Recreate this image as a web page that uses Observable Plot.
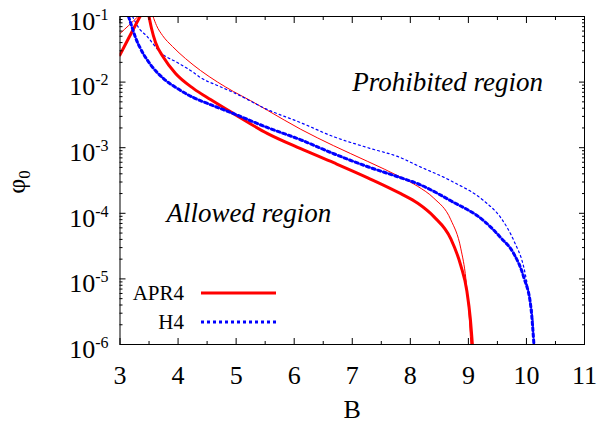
<!DOCTYPE html>
<html><head><meta charset="utf-8">
<script src="https://cdn.jsdelivr.net/npm/d3@7"></script>
<script src="https://cdn.jsdelivr.net/npm/@observablehq/plot@0.6"></script>
<style>
html,body{margin:0;padding:0;background:#fff;}
#chart{width:600px;height:435px;}
#chart svg, #chart svg text{font-family:'Liberation Serif','Times New Roman',serif;}
</style></head><body><div id="chart"></div>
<script>
// ---- tick values ----
const xTicks = [3, 4, 5, 6, 7, 8, 9, 10, 11];
const xMinorTicks = [3.5, 4.5, 5.5, 6.5, 7.5, 8.5, 9.5, 10.5];
const yTicks = [1e-1, 1e-2, 1e-3, 1e-4, 1e-5, 1e-6];
const yMinorMultipliers = [2, 3, 4, 5, 6, 7, 8, 9];
const yMinorTicks = yTicks.slice(1).flatMap(d => yMinorMultipliers.map(m => m * d));

// ---- APR4 (thick) ----
const apr4ThickLeftB   = [3.0, 3.15, 3.345];
const apr4ThickLeftPhi = [2.6e-2, 4.7e-2, 1.0e-1];
const apr4ThickB   = [3.500, 3.543, 3.612, 3.750, 3.957, 4.267, 4.560, 4.957, 5.543, 6.112, 6.681, 7.267, 7.836, 8.129, 8.405, 8.698, 8.871, 8.974, 9.034, 9.069];
const apr4ThickPhi = [1.0e-1, 6.56e-2, 4.01e-2, 2.37e-2, 1.35e-2, 7.96e-3, 5.41e-3, 3.30e-3, 1.64e-3, 9.66e-4, 5.90e-4, 3.48e-4, 1.99e-4, 1.42e-4, 8.9e-5, 4.08e-5, 1.58e-5, 6.56e-6, 2.45e-6, 1.0e-6];

// ---- APR4 (thin) ----
const apr4ThinLeftB   = [3.0, 3.15, 3.31];
const apr4ThinLeftPhi = [5.5e-2, 7.3e-2, 1.0e-1];
const apr4ThinB   = [3.569, 3.629, 3.733, 3.905, 4.129, 4.388, 4.681, 4.957, 5.250, 5.543, 6.112, 6.681, 7.267, 7.836, 8.129, 8.405, 8.698, 8.871, 8.957, 9.009, 9.043];
const apr4ThinPhi = [1.0e-1, 7.29e-2, 5.13e-2, 3.48e-2, 2.28e-2, 1.50e-2, 1.00e-2, 7.16e-3, 5.21e-3, 3.70e-3, 1.91e-3, 1.07e-3, 6.17e-4, 3.55e-4, 2.57e-4, 1.70e-4, 7.96e-5, 2.87e-5, 1.0e-5, 3.03e-6, 1.0e-6];

// ---- H4 (thick dotted) ----
const h4ThickB   = [3.147, 3.198, 3.267, 3.353, 3.526, 3.750, 3.991, 4.267, 4.560, 4.957, 5.543, 6.112, 6.681, 7.267, 7.836, 8.129, 8.698, 9.267, 9.560, 9.784, 9.957, 10.078, 10.129];
const h4ThickPhi = [1.0e-1, 7.29e-2, 4.78e-2, 3.24e-2, 1.85e-2, 1.13e-2, 7.96e-3, 5.79e-3, 4.53e-3, 3.30e-3, 2.02e-3, 1.32e-3, 8.09e-4, 5.13e-4, 3.48e-4, 2.82e-4, 1.55e-4, 7.67e-5, 4.23e-5, 2.41e-5, 1.04e-5, 3.61e-6, 1.0e-6];

// ---- H4 (thin dotted) ----
const h4ThinB   = [3.216, 3.319, 3.469, 3.698, 3.986, 4.267, 4.388, 4.681, 4.957, 5.543, 6.112, 6.681, 7.267, 7.836, 8.129, 8.698, 9.267, 9.560, 9.784, 9.957, 10.043, 10.112, 10.129];
const h4ThinPhi = [1.0e-1, 6.79e-2, 4.95e-2, 2.82e-2, 1.99e-2, 1.40e-2, 1.17e-2, 8.85e-3, 6.92e-3, 3.80e-3, 2.41e-3, 1.47e-3, 1.0e-3, 7.03e-4, 5.31e-4, 3.13e-4, 1.55e-4, 8.53e-5, 3.80e-5, 1.47e-5, 5.90e-6, 2.29e-6, 1.0e-6];

// ---- annotations & legend ----
const annotText = ["Prohibited region", "Allowed region"];
const annotB    = [7.0, 3.8];
const annotPhi  = [1e-2, 1e-4];
const legendNames = ["APR4", "H4"];

const rows = (B, phi) => B.map((b, i) => ({B: b, phi: phi[i]}));
const RED = "#ff0000", BLUE = "#0000ff";
const FONT = "Liberation Serif";

const lineOpts = {x: "B", y: "phi", curve: "monotone-x", clip: true, fill: "none"};
const axisFont = {fontFamily: FONT, fontSize: 26};

const chart = Plot.plot({
  width: 600, height: 435,
  marginLeft: 119.5, marginRight: 16, marginTop: 16, marginBottom: 91,
  style: "font-family: 'Liberation Serif', serif; font-size: 26px; color: black; background: white;",
  x: {domain: [3, 11]},
  y: {type: "log", domain: [1e-6, 1e-1]},
  marks: [
    Plot.line(rows(apr4ThinLeftB, apr4ThinLeftPhi), {...lineOpts, stroke: RED, strokeWidth: 1}),
    Plot.line(rows(apr4ThinB, apr4ThinPhi), {...lineOpts, stroke: RED, strokeWidth: 1}),
    Plot.line(rows(h4ThinB, h4ThinPhi), {...lineOpts, stroke: BLUE, strokeWidth: 1.2, strokeDasharray: "2,3"}),
    Plot.line(rows(apr4ThickLeftB, apr4ThickLeftPhi), {...lineOpts, stroke: RED, strokeWidth: 3}),
    Plot.line(rows(apr4ThickB, apr4ThickPhi), {...lineOpts, stroke: RED, strokeWidth: 3}),
    Plot.line(rows(h4ThickB, h4ThickPhi), {...lineOpts, stroke: BLUE, strokeWidth: 3, strokeDasharray: "3,3"}),
    Plot.text(annotText.map((t, i) => ({t, B: annotB[i], phi: annotPhi[i]})),
      {x: "B", y: "phi", text: "t", textAnchor: "start", fontStyle: "italic", fontSize: 27, fontFamily: FONT}),
    // labelled axes
    Plot.axisX({ticks: xTicks, anchor: "bottom", tickSize: 0, tickPadding: 21.5, tickFormat: d => String(d), ...axisFont, label: null}),
    Plot.axisY({ticks: yTicks, anchor: "left", tickSize: 0, tickPadding: 11.5, dy: 5, tickFormat: d => "10^" + Math.round(Math.log10(d)), ...axisFont, label: null}),
    // inward ticks
    Plot.axisX({ticks: xTicks, anchor: "bottom", tickSize: -6, tickFormat: () => "", label: null}),
    Plot.axisX({ticks: xTicks, anchor: "top", tickSize: -6, tickFormat: () => "", label: null}),
    Plot.axisX({ticks: xMinorTicks, anchor: "bottom", tickSize: -3, tickFormat: () => "", label: null}),
    Plot.axisX({ticks: xMinorTicks, anchor: "top", tickSize: -3, tickFormat: () => "", label: null}),
    Plot.axisY({ticks: yTicks, anchor: "left", tickSize: -6, tickFormat: () => "", label: null}),
    Plot.axisY({ticks: yTicks, anchor: "right", tickSize: -6, tickFormat: () => "", label: null}),
    Plot.axisY({ticks: yMinorTicks, anchor: "left", tickSize: -3, tickFormat: () => "", label: null}),
    Plot.axisY({ticks: yMinorTicks, anchor: "right", tickSize: -3, tickFormat: () => "", label: null}),
    Plot.frame({stroke: "black", strokeWidth: 1}),
    Plot.text(["B"], {frameAnchor: "bottom", dy: 73, text: d => d, fontSize: 26, fontFamily: FONT})
  ]
});
document.getElementById("chart").appendChild(chart);

const svg = d3.select(chart);
// superscript exponents on y tick labels
svg.selectAll("text").each(function() {
  const s = this.textContent;
  const m = /^10\^(-?\d+)$/.exec(s);
  if (!m) return;
  this.textContent = "";
  const t = d3.select(this);
  t.append("tspan").text("10");
  t.append("tspan").attr("font-size", 16).attr("dy", -10).text(m[1]);
});

// y-axis label φ0
const yl = svg.append("text")
  .attr("transform", "translate(25,182) rotate(-90)")
  .attr("text-anchor", "middle")
  .attr("font-family", FONT).attr("font-size", 26).attr("fill", "black");
yl.append("tspan").text("φ");
yl.append("tspan").attr("font-size", 17).attr("dy", 5).text("0");

// legend
const leg = svg.append("g").attr("font-family", FONT).attr("font-size", 21);
const legY = [293, 322];
const legStyles = [{stroke: RED, dash: null}, {stroke: BLUE, dash: "3,3"}];
legendNames.forEach((name, i) => {
  leg.append("text").attr("x", 184).attr("y", legY[i]).attr("dy", "0.35em")
    .attr("text-anchor", "end").attr("fill", "black").text(name);
  const ln = leg.append("line").attr("x1", 201).attr("x2", 276)
    .attr("y1", legY[i]).attr("y2", legY[i])
    .attr("stroke", legStyles[i].stroke).attr("stroke-width", 3);
  if (legStyles[i].dash) ln.attr("stroke-dasharray", legStyles[i].dash);
});
</script>
</body></html>
